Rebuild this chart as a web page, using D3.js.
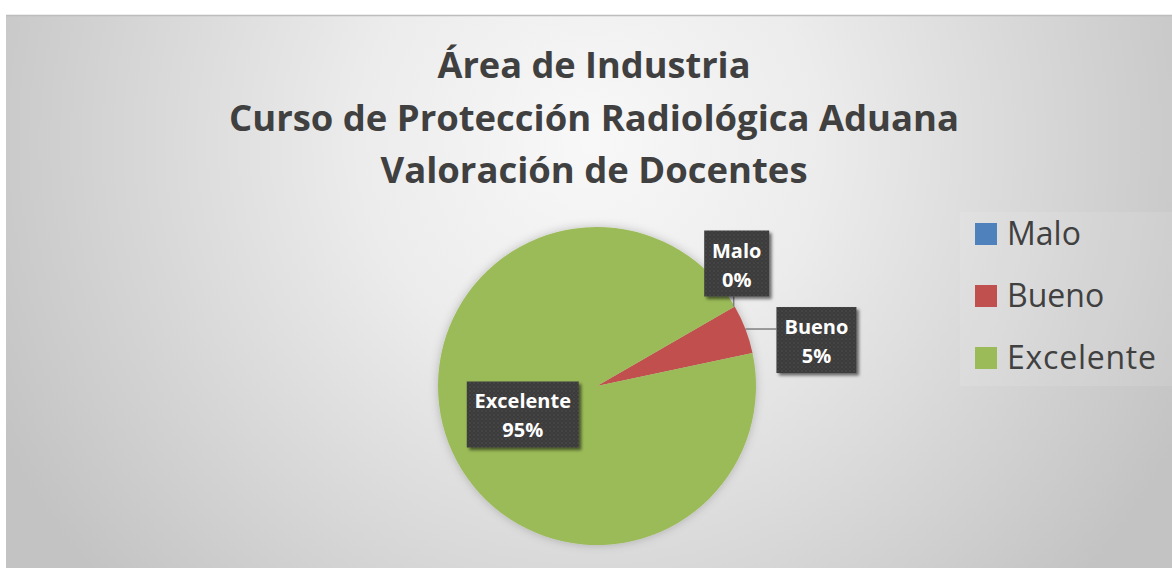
<!DOCTYPE html>
<meta charset="utf-8">
<title>Valoración de Docentes</title>
<style>
  html, body { margin: 0; padding: 0; background: #fff; }
  svg { display: block; font-family: "Open Sans", sans-serif; }
</style>
<body>
<svg id="chart" width="1172" height="568"></svg>
<script src="https://cdnjs.cloudflare.com/ajax/libs/d3/7.8.5/d3.min.js"></script>
<script>
// data
var categories = ["Malo", "Bueno", "Excelente"];
var values = [0, 5, 95];
var colors = ["#4F81BD", "#C0504D", "#9BBB59"];
var titleLines = ["Área de Industria",
                  "Curso de Protección Radiológica Aduana",
                  "Valoración de Docentes"];
var titleWidths = [313, 730, 427];

var W = 1172, H = 568;
var area = {x: 6, y: 15, w: W - 6, h: H - 15};
var cx = 597, cy = 386, radius = 159;

var svg = d3.select("#chart");
var defs = svg.append("defs");

var bg = defs.append("radialGradient")
    .attr("id", "bg")
    .attr("gradientUnits", "userSpaceOnUse")
    .attr("cx", 590).attr("cy", 140).attr("r", 660);
bg.append("stop").attr("offset", "0").attr("stop-color", "#f8f8f8");
bg.append("stop").attr("offset", "0.35").attr("stop-color", "#ececec");
bg.append("stop").attr("offset", "1").attr("stop-color", "#c3c3c3");

var dots = defs.append("pattern")
    .attr("id", "dots")
    .attr("patternUnits", "userSpaceOnUse")
    .attr("width", 4).attr("height", 4);
dots.append("rect").attr("width", 4).attr("height", 4).attr("fill", "#3b3b3b");
dots.append("circle").attr("cx", 1).attr("cy", 1).attr("r", 0.7).attr("fill", "#575757");
dots.append("circle").attr("cx", 3).attr("cy", 3).attr("r", 0.7).attr("fill", "#4a4a4a");

defs.append("filter").attr("id", "boxShadow")
    .attr("x", "-20%").attr("y", "-20%").attr("width", "150%").attr("height", "150%")
  .append("feDropShadow")
    .attr("dx", 2.5).attr("dy", 2.5).attr("stdDeviation", 1.8)
    .attr("flood-color", "#000").attr("flood-opacity", 0.55);

defs.append("filter").attr("id", "pieShadow")
    .attr("x", "-20%").attr("y", "-20%").attr("width", "140%").attr("height", "140%")
  .append("feDropShadow")
    .attr("dx", 0).attr("dy", 0).attr("stdDeviation", 5)
    .attr("flood-color", "#000").attr("flood-opacity", 0.22);

// background
svg.append("rect")
    .attr("x", area.x).attr("y", area.y)
    .attr("width", area.w).attr("height", area.h)
    .attr("fill", "url(#bg)");
svg.append("line")
    .attr("x1", area.x).attr("x2", W)
    .attr("y1", area.y + 0.5).attr("y2", area.y + 0.5)
    .attr("stroke", "#bdbdbd").attr("stroke-width", 1.5);

// title
var title = svg.append("g").attr("class", "title");
title.selectAll("text")
  .data(titleLines)
  .enter().append("text")
    .attr("x", 594)
    .attr("y", function(d, i) { return 78 + i * 52.5; })
    .attr("text-anchor", "middle")
    .attr("font-size", 35)
    .attr("font-weight", "bold")
    .attr("fill", "#404040")
    .attr("textLength", function(d, i) { return titleWidths[i]; })
    .attr("lengthAdjust", "spacingAndGlyphs")
    .text(function(d) { return d; });

// pie
var pie = d3.pie()
    .sort(null)
    .startAngle(Math.PI / 3)
    .endAngle(Math.PI / 3 + 2 * Math.PI);

var arcs = pie(values);
var arc = d3.arc().innerRadius(0).outerRadius(radius);

var g = svg.append("g").attr("transform", "translate(" + cx + "," + cy + ")");
g.append("g").attr("filter", "url(#pieShadow)")
  .selectAll("path")
  .data(arcs)
  .enter().append("path")
    .attr("d", arc)
    .attr("fill", function(d, i) { return colors[i]; });

// labels
var total = d3.sum(values);
function outer(a) {
  return [Math.sin(a) * radius, -Math.cos(a) * radius];
}

var labels = arcs.map(function(d, i) {
  var mid = (d.startAngle + d.endAngle) / 2;
  var pct = Math.round(d.data / total * 100) + "%";
  var l = {name: categories[i], pct: pct};
  if (i === 2) {
    var c = arc.centroid(d);
    l.cx = c[0]; l.cy = c[1]; l.mode = "inside";
  } else if (i === 1) {
    l.anchor = outer(mid); l.mode = "right";
  } else {
    l.anchor = outer(d.startAngle); l.mode = "top";
  }
  return l;
});

var lg = g.append("g").attr("class", "labels");
labels.forEach(function(l) {
  var grp = lg.append("g");
  var t1 = grp.append("text")
      .attr("text-anchor", "middle")
      .attr("font-size", 20).attr("font-weight", "bold")
      .attr("fill", "#ffffff")
      .text(l.name);
  var tw = t1.node().getComputedTextLength();
  var bw = Math.round(tw + 16), bh = 66;
  var bx, by;
  if (l.mode === "inside") {
    bx = l.cx - bw / 2; by = l.cy - bh / 2;
  } else if (l.mode === "right") {
    bx = l.anchor[0] + 31; by = l.anchor[1] - 22;
    grp.insert("line", "text")
        .attr("x1", l.anchor[0]).attr("y1", l.anchor[1])
        .attr("x2", bx).attr("y2", l.anchor[1])
        .attr("stroke", "#7f7f7f").attr("stroke-width", 1.5);
  } else {
    bx = l.anchor[0] - bw / 2 + 2; by = l.anchor[1] - 10 - bh;
    grp.insert("line", "text")
        .attr("x1", l.anchor[0] - 1).attr("y1", l.anchor[1])
        .attr("x2", l.anchor[0] - 1).attr("y2", by + bh)
        .attr("stroke", "#7f7f7f").attr("stroke-width", 1.5);
  }
  grp.insert("rect", "text")
      .attr("x", bx).attr("y", by)
      .attr("width", bw).attr("height", bh)
      .attr("fill", "url(#dots)")
      .attr("filter", "url(#boxShadow)");
  t1.attr("x", bx + bw / 2).attr("y", by + 27);
  grp.append("text")
      .attr("x", bx + bw / 2).attr("y", by + 56)
      .attr("text-anchor", "middle")
      .attr("font-size", 20).attr("font-weight", "bold")
      .attr("fill", "#ffffff")
      .text(l.pct);
});

// legend
var y = d3.scalePoint().domain(categories).range([234, 358]);
var legend = svg.append("g").attr("class", "legend");
legend.append("rect")
    .attr("x", 960).attr("y", 212)
    .attr("width", W - 960).attr("height", 174)
    .attr("fill", "#ffffff").attr("opacity", 0.1);
var item = legend.selectAll("g.item")
  .data(categories)
  .enter().append("g").attr("class", "item")
    .attr("transform", function(d) { return "translate(975," + y(d) + ")"; });
item.append("rect")
    .attr("x", 0).attr("y", -11)
    .attr("width", 22).attr("height", 22)
    .attr("fill", function(d, i) { return colors[i]; });
item.append("text")
    .attr("x", 32).attr("y", 11)
    .attr("font-size", 32)
    .attr("fill", "#404040")
    .attr("textLength", function(d) { return d === "Excelente" ? 149 : null; })
    .text(function(d) { return d; });
</script>
</body>
